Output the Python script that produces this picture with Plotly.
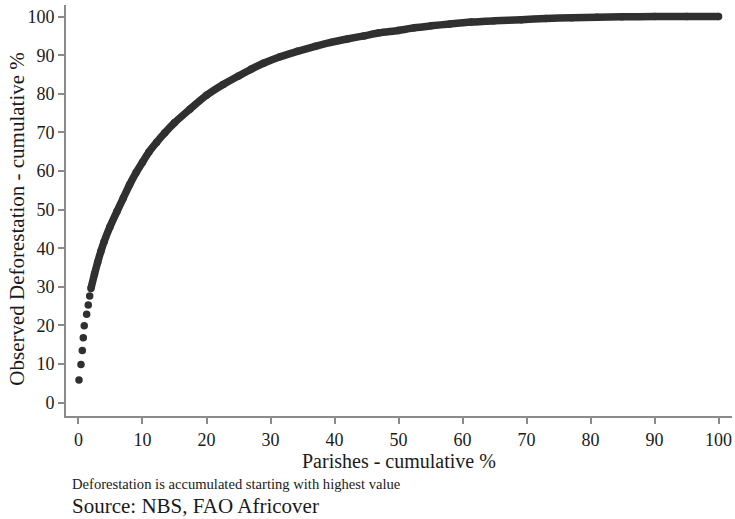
import plotly.graph_objects as go

# Cumulative share of parishes (%) vs cumulative observed deforestation (%)
parishes_pct = [0.08, 0.39, 0.6, 0.75, 0.9, 1.28, 1.53, 1.75, 1.95,
                2.5, 3.0, 3.5, 4.0, 4.9, 6.0, 7.0, 8.0, 9.0, 10.0, 11.0, 12.2, 13.5,
                15.0, 17.4, 20.0, 22.6, 25.0, 27.0, 28.9, 31.5, 34.2, 37.0, 39.4,
                42.0, 44.6, 47.0, 49.9, 52.5, 55.1, 58.0, 61.4, 65.0, 69.2, 73.0,
                77.1, 81.0, 84.9, 90.0, 95.0, 100.0]
deforestation_pct = [5.9, 9.9, 13.5, 16.8, 19.9, 22.9, 25.3, 27.6, 29.6,
                     33.3, 36.4, 39.2, 41.7, 45.5, 49.5, 53.0, 56.5, 59.6, 62.3, 64.9, 67.4, 69.9,
                     72.5, 76.0, 79.6, 82.4, 84.6, 86.4, 87.9, 89.6, 91.0, 92.3, 93.3,
                     94.2, 95.0, 95.8, 96.4, 97.1, 97.6, 98.1, 98.6, 98.9, 99.2, 99.5,
                     99.7, 99.85, 99.95, 100.0, 100.0, 100.0]
dense_start = 8  # from here on the dots overlap into a continuous band

x_ticks = [0, 10, 20, 30, 40, 50, 60, 70, 80, 90, 100]
y_ticks = [0, 10, 20, 30, 40, 50, 60, 70, 80, 90, 100]

FONT = "Liberation Serif"
TXT = "#1a1a1a"
DOT = "#303030"
AXIS = "#8a8a8a"

fig = go.Figure()
fig.add_trace(go.Scatter(
    x=parishes_pct[dense_start:], y=deforestation_pct[dense_start:],
    mode="lines", line=dict(color=DOT, width=7.5, shape="spline", smoothing=0.6),
    hoverinfo="skip", showlegend=False))
fig.add_trace(go.Scatter(
    x=parishes_pct, y=deforestation_pct, mode="markers",
    marker=dict(color=DOT, size=7.5, line=dict(width=0)),
    showlegend=False))

axis_common = dict(
    showgrid=False, zeroline=False, showline=True, linecolor=AXIS, linewidth=2,
    ticks="outside", ticklen=6, tickwidth=2, tickcolor=AXIS,
    tickfont=dict(family=FONT, size=18, color=TXT), mirror=False)

fig.update_xaxes(range=[-1.95, 102.1], tickvals=x_ticks, **axis_common)
fig.update_yaxes(range=[-3.45, 103.0], tickvals=y_ticks, **axis_common)

fig.update_layout(
    width=735, height=519,
    margin=dict(l=66, r=3, t=5, b=103),
    paper_bgcolor="white", plot_bgcolor="white",
    font=dict(family=FONT, color=TXT),
    annotations=[
        dict(text="Parishes - cumulative %", xref="paper", yref="paper",
             x=0.5, y=-0.109, xanchor="center", yanchor="middle", showarrow=False,
             font=dict(family=FONT, size=20, color=TXT)),
        dict(text="Observed Deforestation - cumulative %", xref="paper", yref="paper",
             x=-0.0736, y=0.48, xanchor="center", yanchor="middle", showarrow=False,
             textangle=-90, font=dict(family=FONT, size=21, color=TXT)),
        dict(text="Deforestation is accumulated starting with highest value",
             xref="paper", yref="paper", x=0.006, y=-0.165, xanchor="left",
             yanchor="middle", showarrow=False,
             font=dict(family=FONT, size=14.6, color=TXT)),
        dict(text="Source: NBS, FAO Africover", xref="paper", yref="paper",
             x=0.006, y=-0.22, xanchor="left", yanchor="middle", showarrow=False,
             font=dict(family=FONT, size=21, color=TXT)),
    ],
)

fig.write_html("out.html")
